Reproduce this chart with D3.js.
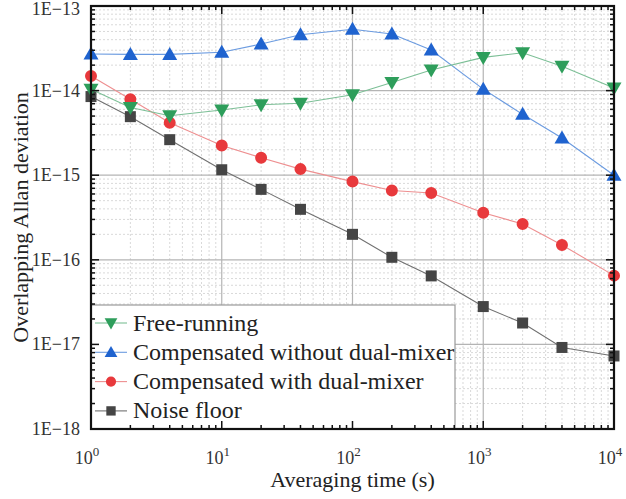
<!DOCTYPE html>
<html>
<head>
<meta charset="utf-8">
<script src="https://cdn.jsdelivr.net/npm/d3@7"></script>
<style>
  body { margin: 0; background: #fff; }
</style>
</head>
<body>
<div id="chart"></div>
<script>
// Averaging times (s)
var tau = [1, 2, 4, 10, 20, 40, 100, 200, 400, 1000, 2000, 4000, 10000];

// Overlapping Allan deviation per series
var freeRunning = [1.04e-14, 6.3e-15, 5.05e-15, 5.9e-15, 6.8e-15, 7.1e-15, 8.95e-15, 1.25e-14, 1.75e-14, 2.47e-14, 2.8e-14, 1.94e-14, 1.07e-14];
var compNoMixer = [2.71e-14, 2.68e-14, 2.68e-14, 2.84e-14, 3.55e-14, 4.58e-14, 5.3e-14, 4.66e-14, 3.02e-14, 1.04e-14, 5.24e-15, 2.75e-15, 1.0e-15];
var compMixer = [1.49e-14, 7.9e-15, 4.17e-15, 2.24e-15, 1.61e-15, 1.18e-15, 8.4e-16, 6.6e-16, 6.15e-16, 3.6e-16, 2.65e-16, 1.5e-16, 6.5e-17];
var noiseFloor = [8.5e-15, 4.92e-15, 2.63e-15, 1.16e-15, 6.8e-16, 3.95e-16, 2.0e-16, 1.07e-16, 6.45e-17, 2.8e-17, 1.79e-17, 9.2e-18, 7.3e-18];

var seriesNames = ["Free-running", "Compensated without dual-mixer", "Compensated with dual-mixer", "Noise floor"];
var yTickLabels = ["1E\u221218", "1E\u221217", "1E\u221216", "1E\u221215", "1E\u221214", "1E\u221213"];
var xTickExps = ["0", "1", "2", "3", "4"];

var serif = '"Liberation Serif"';

var svgWidth = 626;
var svgHeight = 499;
var margin = { top: 6, left: 91, right: 12, bottom: 70 };
var width = svgWidth - margin.left - margin.right;
var height = svgHeight - margin.top - margin.bottom;

var svg = d3.select("#chart").append("svg")
    .attr("width", svgWidth)
    .attr("height", svgHeight);

var chartGroup = svg.append("g")
    .attr("transform", `translate(${margin.left}, ${margin.top})`);

var xScale = d3.scaleLog().domain([1, 1e4]).range([0, width]);
var yScale = d3.scaleLog().domain([1e-18, 1e-13]).range([height, 0]);

// tick values
var xMajor = [1, 10, 100, 1000, 10000];
var yMajor = [1e-18, 1e-17, 1e-16, 1e-15, 1e-14, 1e-13];
var xMinor = [];
for (var e = 0; e < 4; e++) for (var m = 2; m <= 9; m++) xMinor.push(m * Math.pow(10, e));
var yMinor = [];
for (var e = -18; e < -13; e++) for (var m = 2; m <= 9; m++) yMinor.push(m * Math.pow(10, e));

// Grid lines
var grid = chartGroup.append("g");
grid.selectAll(".xminor").data(xMinor).enter().append("line")
    .attr("x1", d => xScale(d)).attr("x2", d => xScale(d))
    .attr("y1", 0).attr("y2", height)
    .attr("stroke", "#d9d9d9").attr("stroke-dasharray", "2,2");
grid.selectAll(".yminor").data(yMinor).enter().append("line")
    .attr("y1", d => yScale(d)).attr("y2", d => yScale(d))
    .attr("x1", 0).attr("x2", width)
    .attr("stroke", "#d9d9d9").attr("stroke-dasharray", "2,2");
grid.selectAll(".xmajor").data(xMajor).enter().append("line")
    .attr("x1", d => xScale(d)).attr("x2", d => xScale(d))
    .attr("y1", 0).attr("y2", height)
    .attr("stroke", "#b4b4b4").attr("stroke-width", 1.2);
grid.selectAll(".ymajor").data(yMajor).enter().append("line")
    .attr("y1", d => yScale(d)).attr("y2", d => yScale(d))
    .attr("x1", 0).attr("x2", width)
    .attr("stroke", "#b4b4b4").attr("stroke-width", 1.2);

// Series
var series = [
    { name: seriesNames[0], values: freeRunning, color: "#2e9e5b", line: "#7cbf96", symbol: "tdown" },
    { name: seriesNames[1], values: compNoMixer, color: "#1f63cf", line: "#6b9be0", symbol: "tup" },
    { name: seriesNames[2], values: compMixer, color: "#e8393c", line: "#ee8f90", symbol: "circle" },
    { name: seriesNames[3], values: noiseFloor, color: "#454545", line: "#707070", symbol: "square" }
];

function symbolPath(kind) {
    if (kind === "tup") return "M0,-7.5L7.5,5.5L-7.5,5.5Z";
    if (kind === "tdown") return "M0,7.5L7.5,-5.5L-7.5,-5.5Z";
    if (kind === "square") return "M-5.5,-5.5H5.5V5.5H-5.5Z";
    return d3.symbol(d3.symbolCircle, 113)();
}

var plotArea = chartGroup.append("g");
var lineGen = d3.line().x(d => xScale(d[0])).y(d => yScale(d[1]));

// draw in reverse so free-running sits on top
series.slice().reverse().forEach(function (s) {
    var pts = tau.map((t, i) => [t, s.values[i]]);
    plotArea.append("path")
        .attr("d", lineGen(pts))
        .attr("fill", "none")
        .attr("stroke", s.line)
        .attr("stroke-width", 1.1);
    plotArea.selectAll(null).data(pts).enter().append("path")
        .attr("transform", d => `translate(${xScale(d[0])}, ${yScale(d[1])})`)
        .attr("d", symbolPath(s.symbol))
        .attr("fill", s.color);
});

// Legend
var legend = chartGroup.append("g");
legend.append("rect")
    .attr("x", 0).attr("y", 299)
    .attr("width", 364).attr("height", height - 299)
    .attr("fill", "#fff").attr("stroke", "#999").attr("stroke-width", 1.2);
series.forEach(function (s, i) {
    var ly = 317 + i * 29.3;
    var row = legend.append("g").attr("transform", `translate(0, ${ly})`);
    row.append("line").attr("x1", 4).attr("x2", 36).attr("y1", 0).attr("y2", 0)
        .attr("stroke", s.line).attr("stroke-width", 1.1);
    row.append("path").attr("transform", "translate(20,0) scale(0.85)")
        .attr("d", symbolPath(s.symbol)).attr("fill", s.color);
    row.append("text").attr("x", 42).attr("y", 7.5)
        .style("font-family", serif).style("font-size", "24px").attr("fill", "#222")
        .text(s.name);
});

// Frame and ticks (inside)
var axes = chartGroup.append("g");
function addTicks(vals, len, orient) {
    vals.forEach(function (v) {
        if (orient === "bottom" || orient === "top") {
            var x = xScale(v);
            var y0 = orient === "bottom" ? height : 0;
            var dir = orient === "bottom" ? -1 : 1;
            axes.append("line").attr("x1", x).attr("x2", x)
                .attr("y1", y0).attr("y2", y0 + dir * len)
                .attr("stroke", "#111").attr("stroke-width", 1.5);
        } else {
            var y = yScale(v);
            var x0 = orient === "left" ? 0 : width;
            var dir = orient === "left" ? 1 : -1;
            axes.append("line").attr("y1", y).attr("y2", y)
                .attr("x1", x0).attr("x2", x0 + dir * len)
                .attr("stroke", "#111").attr("stroke-width", 1.5);
        }
    });
}
["bottom", "top"].forEach(o => { addTicks(xMajor, 8, o); addTicks(xMinor, 4, o); });
["left", "right"].forEach(o => { addTicks(yMajor, 8, o); addTicks(yMinor, 4, o); });

axes.append("rect")
    .attr("x", 0).attr("y", 0).attr("width", width).attr("height", height)
    .attr("fill", "none").attr("stroke", "#111").attr("stroke-width", 2.2);

// Tick labels
chartGroup.selectAll(".ylab").data(yMajor).enter().append("text")
    .attr("x", -11).attr("y", d => Math.max(yScale(d) + 6, 9))
    .attr("text-anchor", "end")
    .style("font-family", serif).style("font-size", "18px").attr("fill", "#333")
    .text((d, i) => yTickLabels[i]);

var xl = chartGroup.selectAll(".xlab").data(xMajor).enter().append("text")
    .attr("x", d => xScale(d) - 4).attr("y", height + 35)
    .attr("text-anchor", "middle")
    .style("font-family", serif).style("font-size", "18px").attr("fill", "#333");
xl.append("tspan").text("10");
xl.append("tspan").attr("dy", -8).style("font-size", "13px").text((d, i) => xTickExps[i]);

// Axis titles
chartGroup.append("text")
    .attr("x", width / 2).attr("y", height + 58)
    .attr("text-anchor", "middle")
    .style("font-family", serif).style("font-size", "22px").attr("fill", "#222")
    .text("Averaging time (s)");

chartGroup.append("text")
    .attr("transform", `translate(${-margin.left + 28}, ${height / 2}) rotate(-90)`)
    .attr("text-anchor", "middle")
    .style("font-family", serif).style("font-size", "22px").attr("fill", "#222")
    .text("Overlapping Allan deviation");
</script>
</body>
</html>
